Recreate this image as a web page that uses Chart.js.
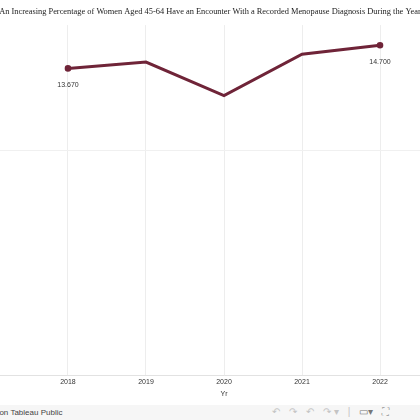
<!DOCTYPE html>
<html>
<head>
<meta charset="utf-8">
<script src="https://cdn.jsdelivr.net/npm/chart.js@4.4.1/dist/chart.umd.min.js"></script>
<style>
  html, body { margin: 0; padding: 0; width: 420px; height: 420px; overflow: hidden; background: #fff; }
  #wrap { position: absolute; left: -100px; top: 0; width: 620px; height: 405px; }
  #footer { position: absolute; left: 0; top: 405px; width: 420px; height: 15px; background: #f6f6f6;
    font-family: Arial, "Liberation Sans", sans-serif; font-size: 8px; color: #444; overflow: hidden; }
  #footer .link { position: absolute; left: -20px; top: 3px; white-space: nowrap; }
  #footer .tools { position: absolute; left: 272px; top: 1px; white-space: nowrap; color: #c4c4c4; font-size: 10px; }
  #footer .tools span { margin-right: 9px; }
</style>
</head>
<body>
<div id="wrap"><canvas id="chart"></canvas></div>
<div id="footer">
  <span class="link">View on Tableau Public</span>
  <span class="tools"><span>↶</span><span>↷</span><span>↶</span><span>↷ ▾</span><span>|</span><span style="color:#777">▭▾</span><span style="color:#999">⛶</span></span>
</div>
<script>
const years = [2018, 2019, 2020, 2021, 2022];
const pctWithMenopauseDx = [13.67, 13.95, 12.46, 14.30, 14.70];
const yearTicks = [2017, 2018, 2019, 2020, 2021, 2022, 2023];
const valueTicks = [0, 10];

const lineColor = '#6f2438';

// labels under first and last point, like the Tableau marks
const endLabels = {
  id: 'endLabels',
  afterDatasetsDraw(chart) {
    const ctx = chart.ctx;
    const meta = chart.getDatasetMeta(0);
    const last = meta.data.length - 1;
    ctx.save();
    ctx.font = '7px Arial, "Liberation Sans", sans-serif';
    ctx.fillStyle = '#333';
    ctx.textAlign = 'center';
    ctx.textBaseline = 'middle';
    [0, last].forEach((i) => {
      const pt = meta.data[i];
      ctx.fillText(pctWithMenopauseDx[i].toFixed(3), pt.x, pt.y + 17);
    });
    ctx.restore();
  }
};

new Chart(document.getElementById('chart'), {
  type: 'line',
  data: {
    datasets: [{
      label: 'Percentage',
      data: years.map((y, i) => ({ x: y, y: pctWithMenopauseDx[i] })),
      borderColor: lineColor,
      backgroundColor: lineColor,
      borderWidth: 3,
      tension: 0,
      pointRadius: (c) => (c.dataIndex === 0 || c.dataIndex === years.length - 1 ? 1.8 : 0),
      pointHoverRadius: 0,
    }],
  },
  options: {
    responsive: true,
    maintainAspectRatio: false,
    animation: false,
    events: [],
    layout: { padding: { left: 37, right: 37, top: 0, bottom: 7 } },
    plugins: {
      legend: { display: false },
      tooltip: { enabled: false },
      title: {
        display: true,
        text: 'An Increasing Percentage of Women Aged 45-64 Have an Encounter With a Recorded Menopause Diagnosis During the Year',
        color: '#222',
        font: { family: '"Liberation Serif", "DejaVu Serif", serif', size: 8.4, weight: 'normal' },
        padding: { top: 7, bottom: 8 },
      },
    },
    scales: {
      x: {
        type: 'linear',
        min: 2016.68,
        max: 2023.32,
        afterBuildTicks: (axis) => { axis.ticks = yearTicks.map((v) => ({ value: v })); },
        grid: { color: '#ededed', drawTicks: false },
        border: { display: true, color: '#e2e2e2' },
        ticks: {
          padding: 3,
          color: '#333',
          font: { family: 'Arial, "Liberation Sans", sans-serif', size: 7 },
          callback: (v) => String(v),
        },
        title: {
          display: true,
          text: 'Yr',
          color: '#333',
          font: { family: 'Arial, "Liberation Sans", sans-serif', size: 7 },
          padding: { top: 0, bottom: 0 },
        },
      },
      y: {
        min: 0,
        max: 15.6,
        afterBuildTicks: (axis) => { axis.ticks = valueTicks.map((v) => ({ value: v })); },
        afterFit: (axis) => { axis.width = 28; },
        grid: { color: '#f0f0f0', drawTicks: false },
        border: { display: false },
        ticks: { display: false },
      },
    },
  },
  plugins: [endLabels],
});
</script>
</body>
</html>
